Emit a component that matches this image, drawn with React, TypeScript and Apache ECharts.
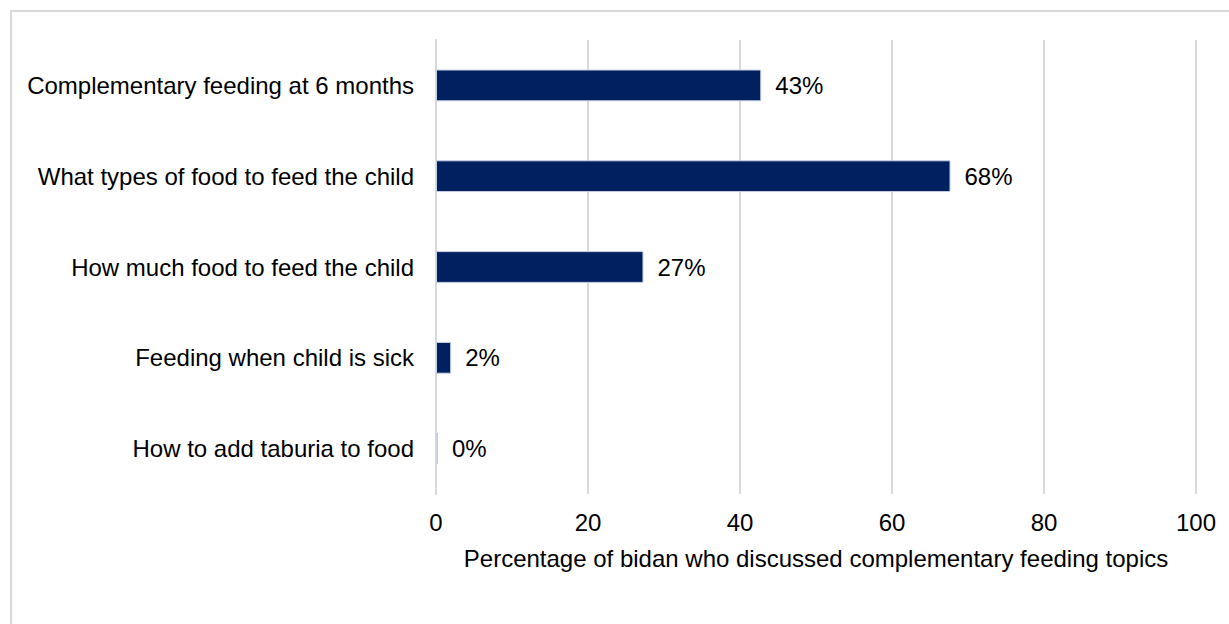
import React, { useEffect, useRef } from "react";
import * as echarts from "echarts";

const categories = [
  "Complementary feeding at 6 months",
  "What types of food to feed the child",
  "How much food to feed the child",
  "Feeding when child is sick",
  "How to add taburia to food",
];
const values = [42.8, 67.7, 27.3, 2, 0.25];
const xTicks = [0, 20, 40, 60, 80, 100];
const axisTitle = "Percentage of bidan who discussed complementary feeding topics";

export default function App() {
  const ref = useRef<HTMLDivElement>(null);
  useEffect(() => {
    if (!ref.current) return;
    const chart = echarts.init(ref.current, null, { renderer: "svg" });
    const font = "'Liberation Sans', Arial, sans-serif";
    chart.setOption({
      animation: false,
      backgroundColor: "#ffffff",
      textStyle: { fontFamily: font },
      graphic: [
        {
          type: "rect",
          shape: { x: 11, y: 11, width: 1300, height: 700 },
          style: { fill: "none", stroke: "#d9d9d9", lineWidth: 2 },
          silent: true,
        },
      ],
      grid: { left: 436, right: 33, top: 40, bottom: 130, containLabel: false },
      xAxis: {
        type: "value",
        min: xTicks[0],
        max: xTicks[xTicks.length - 1],
        interval: 20,
        axisLine: { show: false },
        axisTick: { show: false },
        splitLine: { show: true, lineStyle: { color: "#d9d9d9", width: 2 } },
        axisLabel: { color: "#000", fontSize: 24, margin: 16, fontFamily: font },
        name: axisTitle,
        nameLocation: "middle",
        nameGap: 52,
        nameTextStyle: { color: "#000", fontSize: 24, fontFamily: font },
      },
      yAxis: {
        type: "category",
        data: categories,
        inverse: true,
        axisLine: { show: true, lineStyle: { color: "#d9d9d9", width: 2 } },
        axisTick: { show: false },
        axisLabel: { color: "#000", fontSize: 24, margin: 22, fontFamily: font },
      },
      series: [
        {
          type: "bar",
          data: values,
          barWidth: "35%",
          itemStyle: { color: "#002060", borderColor: "#c9d2e3", borderWidth: 1 },
          label: {
            show: true,
            position: "right",
            distance: 14,
            color: "#000",
            fontSize: 24,
            fontFamily: font,
            formatter: (p: any) => `${Math.round(p.value)}%`,
          },
        },
      ],
    });
    return () => chart.dispose();
  }, []);
  return (
    <div
      ref={ref}
      style={{ position: "fixed", left: 0, top: 0, width: 1229, height: 624 }}
    />
  );
}
